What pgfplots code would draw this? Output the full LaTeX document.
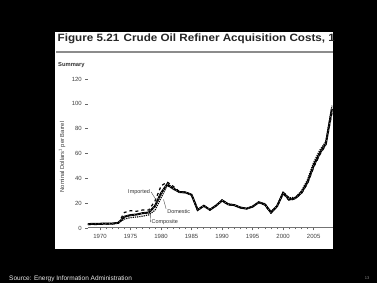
\documentclass[border=0pt]{standalone}
\usepackage{pgfplots}
\pgfplotsset{compat=1.18}
\usepackage{pgfplotstable}
\usepackage{fontspec}
\setmainfont{Liberation Sans}
\pgfplotstableread{
year imported domestic composite
1968 2.90 3.21 3.17
1969 2.80 3.37 3.29
1970 2.96 3.46 3.40
1971 3.17 3.68 3.60
1972 3.22 3.67 3.58
1973 4.08 4.17 4.15
1974 12.52 7.18 9.07
1975 13.93 8.39 10.38
1976 13.48 8.84 10.89
1977 14.53 9.55 11.96
1978 14.57 10.61 12.46
1979 21.67 14.27 17.72
1980 33.89 24.23 28.07
1981 37.05 34.33 35.24
1982 33.55 31.22 31.87
1983 29.30 28.87 28.99
1984 28.88 28.53 28.63
1985 26.99 26.66 26.75
1986 14.00 14.82 14.55
1987 18.13 17.76 17.90
1988 14.56 14.74 14.67
1989 18.08 17.87 17.97
1990 21.76 22.59 22.22
1991 18.70 19.33 19.06
1992 18.20 18.63 18.43
1993 16.14 16.67 16.41
1994 15.51 15.67 15.59
1995 17.14 17.33 17.23
1996 20.61 20.77 20.71
1997 18.49 19.61 19.04
1998 12.07 13.18 12.52
1999 17.26 17.90 17.51
2000 27.70 29.11 28.26
2001 22.00 24.33 22.95
2002 23.71 24.65 24.10
2003 27.73 29.82 28.53
2004 35.90 38.97 36.98
2005 48.86 52.94 50.24
2006 59.02 62.62 60.24
2007 67.04 69.65 67.94
2008 92.61 98.47 96.00
}\datatable
\begin{document}
\begin{tikzpicture}[x=1pt,y=1pt]
\fill[black] (0,0) rectangle (377,283);
\fill[white] (55,34) rectangle (333,251);
\node[anchor=west,inner sep=0pt,xscale=1.1,font=\fontsize{10.6}{11}\selectfont\bfseries,text=black!85] at (57.5,244.5) {Figure 5.21\hspace{4pt}Crude Oil Refiner Acquisition Costs, 1};
\draw[black!45,line width=1.6pt] (56,231) -- (333,231);
\node[anchor=west,inner sep=0pt,font=\fontsize{5.8}{6}\selectfont\bfseries,text=black!80] at (58,218) {Summary};
\node[rotate=90,inner sep=0pt,font=\fontsize{5.8}{6}\selectfont,text=black!80] at (62,126) {Nominal Dollars\textsuperscript{1} per Barrel};
\begin{axis}[
  at={(87.8pt,55pt)}, anchor=south west,
  scale only axis, width=245.4pt, height=149pt,
  xmin=1968, xmax=2008.2, ymin=0, ymax=120,
  axis x line=bottom, axis y line=left,
  x axis line style={-,black!55,line width=1pt},
  y axis line style={draw=none},
  xtick={1970,1975,...,2005}, ytick={0,20,...,120},
  minor x tick num=4,
  x tick label style={/pgf/number format/1000 sep={}},
  /pgf/number format/assume math mode=true,
  tick label style={font=\fontsize{6}{7}\selectfont,text=black!75},
  tick align=outside, major tick length=2.5pt, minor tick length=1.5pt,
  every tick/.style={black!60,line width=0.6pt},
  clip=false,
]
\addplot[black,line width=1.2pt,dashed] table[x=year,y=imported]{\datatable};
\addplot[black,line width=1.2pt,densely dotted] table[x=year,y=domestic]{\datatable};
\addplot[black,line width=2pt] table[x=year,y=composite]{\datatable};
\addplot[black!40,line width=0.5pt,dash pattern=on 1pt off 2.5pt] table[x=year,y=composite]{\datatable};
\node[font=\fontsize{5.5}{6}\selectfont,text=black!80,inner sep=1pt] (imp) at (axis cs:1976.4,29) {Imported};
\draw[black!70,line width=0.4pt] (imp.east) -- (axis cs:1979.4,21);
\node[font=\fontsize{5.5}{6}\selectfont,text=black!80,inner sep=1pt] (dom) at (axis cs:1982.9,12.9) {Domestic};
\draw[black!70,line width=0.4pt] (dom.north west) -- (axis cs:1980.4,23);
\node[font=\fontsize{5.5}{6}\selectfont,text=black!80,inner sep=1pt] (com) at (axis cs:1980.6,4.8) {Composite};
\draw[black!70,line width=0.4pt] (com.west) -- (axis cs:1978.3,11);
\end{axis}
\node[anchor=west,inner sep=0pt,font=\fontsize{6.5}{7}\selectfont,text=black!8] at (9,4.5) {Source: Energy Information Administration};
\node[inner sep=0pt,font=\fontsize{4}{5}\selectfont,text=black!45] at (367,5) {13};
\end{tikzpicture}
\end{document}
